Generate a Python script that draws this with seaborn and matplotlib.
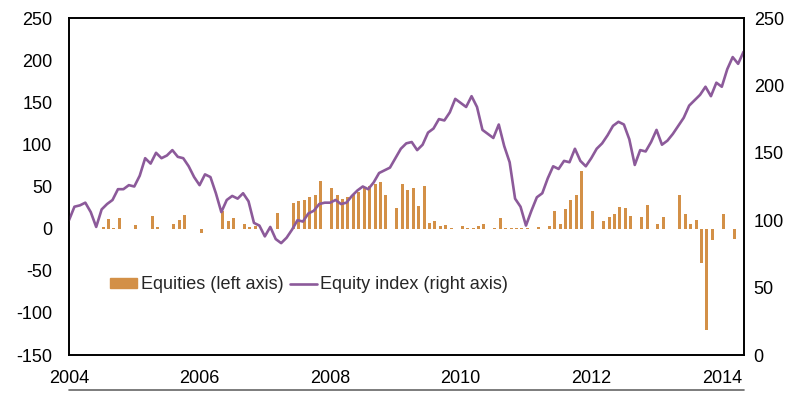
import numpy as np
import seaborn as sns
import matplotlib.pyplot as plt
from matplotlib.patches import Patch
from matplotlib.lines import Line2D

# Monthly equity flows (left axis), Jan 2004 - Mar 2014
flows = [0, 0, 0, 0, 0, 0, 2, 11, 1, 13, 0, 0,
         4, 0, 0, 15, 2, 0, 0, 5, 10, 16, 0, 0,
         -5, 0, 0, 0, 21, 9, 13, 0, 6, 1.5, 3, 0,
         0, 0, 19, 0, 0, 30, 33, 34, 38, 40, 57, 0,
         48, 40, 35, 37, 40, 43, 50, 51, 53, 55, 40, 0,
         25, 53, 46, 48, 27, 51, 7, 9, 3, 4, 0.4, 0,
         3, 1, 0.4, 3, 5, 0, 1, 13, 0.5, 0.5, 0.5, 0.5,
         0.5, 0, 1.6, 0, 3.6, 21, 5, 23, 34, 40, 68, 0,
         21, 0, 9.5, 13.5, 17, 26, 25, 15, 0, 14, 28, 0,
         5.5, 14, 0, 0, 40, 17, 5, 10, -41, -120, -13, 0,
         17, 0, -12]

# Equity index (right axis), Jan 2004 - May 2014
index = [100, 110, 111, 113, 106, 95, 108, 112, 115, 123, 123, 126,
         125, 133, 146, 142, 150, 146, 148, 152, 147, 146, 140, 132,
         126, 134, 132, 120, 106, 115, 118, 116, 120, 114, 98, 96,
         88, 95, 86, 83, 87, 93, 100, 99, 105, 107, 112, 113,
         113, 115, 112, 113, 118, 122, 125, 123, 128, 135, 137, 139,
         146, 153, 157, 158, 152, 156, 165, 168, 175, 174, 180, 190,
         187, 184, 192, 184, 167, 164, 161, 171, 155, 143, 116, 110,
         96, 107, 117, 120, 131, 140, 138, 144, 143, 153, 144, 140,
         146, 153, 157, 163, 170, 173, 171, 160, 141, 152, 151, 158,
         167, 156, 159, 164, 170, 176, 185, 189, 193, 199, 192, 202,
         199, 212, 221, 216, 225]

year_ticks = [2004, 2006, 2008, 2010, 2012, 2014]
labels = ['Equities (left axis)', 'Equity index (right axis)']

bar_color = '#D39047'
line_color = '#8C5A9A'

flow_dates = 2004 + (np.arange(len(flows)) + 0.27) / 12
index_dates = 2004 + np.arange(len(index)) / 12

sns.set_style('white')
plt.rcParams['font.family'] = ['Liberation Sans', 'DejaVu Sans']
plt.rcParams['axes.unicode_minus'] = False

fig = plt.figure(figsize=(8.02, 3.98), dpi=100)
ax = fig.add_axes([69 / 802, 43 / 398, 675 / 802, 337 / 398])

sns.barplot(x=flow_dates, y=flows, native_scale=True, orient='x', width=0.55,
            color=bar_color, errorbar=None, linewidth=0, saturation=1, ax=ax)

ax2 = ax.twinx()
sns.lineplot(x=index_dates, y=index, color=line_color, linewidth=1.9, ax=ax2)

ax.set_xlim(2004, 2014.34)
ax.set_ylim(-150, 250)
ax2.set_ylim(0, 250)
ax.set_xticks(year_ticks)
ax.set_xticklabels([str(y) for y in year_ticks])
ax.set_yticks(range(-150, 251, 50))
ax2.set_yticks(range(0, 251, 50))
for a in (ax, ax2):
    a.set_xlabel('')
    a.set_ylabel('')
    for s in a.spines.values():
        s.set_color('black')
        s.set_linewidth(1.2)

ax.tick_params(axis='x', direction='in', length=5, width=1, color='#555555',
               pad=11, labelsize=13, labelcolor='black')
ax.tick_params(axis='y', length=0, pad=12, labelsize=13, labelcolor='black')
ax2.tick_params(axis='y', length=0, pad=7, labelsize=13, labelcolor='black')

handles = [Patch(color=bar_color), Line2D([], [], color=line_color, linewidth=1.9)]
ax2.legend(handles, labels, loc='center left', bbox_to_anchor=(41 / 675, 0.208),
           ncol=2, frameon=False, fontsize=13, handlelength=1.5, handleheight=0.5,
           handletextpad=0.2, columnspacing=0.35, borderpad=0, borderaxespad=0)

# thin rule under the chart
fig.add_artist(Line2D([69 / 802, 744 / 802], [1 - 390 / 398, 1 - 390 / 398],
                      transform=fig.transFigure, color='#666666', linewidth=1.2))

fig.savefig('out.png', dpi=100)
